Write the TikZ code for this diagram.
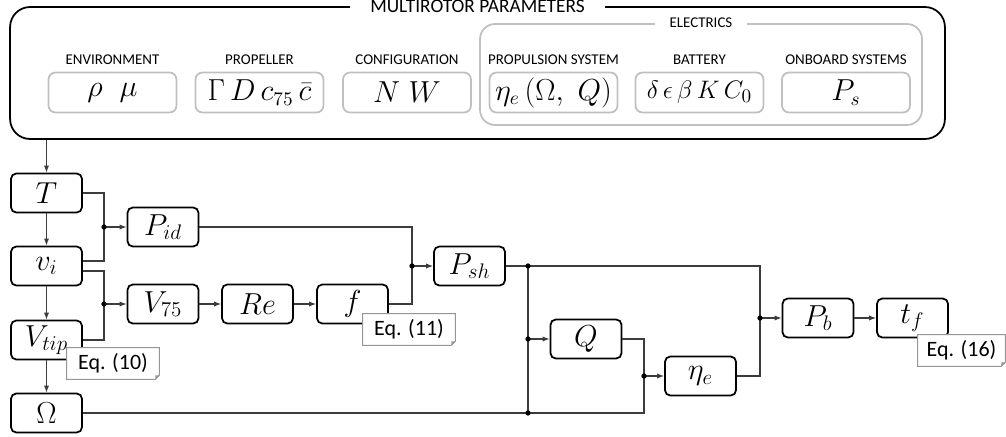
\documentclass[tikz,border=0pt]{standalone}
\usepackage{amsmath}
\usepackage{amssymb}
\usepackage{fontspec}
\usepackage{tikz}
\usetikzlibrary{calc,arrows.meta}
\newfontfamily\calib{Carlito}
\definecolor{linegray}{RGB}{60,60,60}
\definecolor{boxgray}{RGB}{192,192,192}
\definecolor{notegray}{RGB}{150,150,150}

\begin{document}
\begin{tikzpicture}[x=0.02cm, y=-0.02cm,
    blk/.style={draw, line width=1pt, rounded corners=3pt, minimum width=1.42cm,
      minimum height=0.78cm, inner sep=0pt, font=\fontsize{17}{20}\selectfont},
    parbox/.style={draw=boxgray, line width=1pt, rounded corners=4pt, minimum width=2.56cm,
      minimum height=0.8cm, inner sep=0pt, font=\fontsize{16}{19}\selectfont},
    grplbl/.style={font=\calib\fontsize{8.5}{10}\selectfont},
    conn/.style={draw=linegray, line width=0.7pt},
    arr/.style={conn, -{Latex[length=4pt,width=3pt]}},
    note/.style={fill=white, minimum width=1.84cm, minimum height=0.62cm, inner sep=0pt,
      font=\calib\fontsize{12.5}{15}\selectfont}]
  \useasboundingbox (0,0) rectangle (1006,436);

  % parameters
  \node[draw, line width=1pt, rounded corners=0.4cm, minimum width=18.7cm,
    minimum height=2.64cm] (params) at (477.5,73) {};
  \node[fill=white, inner xsep=0.4cm, font=\calib\fontsize{11}{13}\selectfont]
    (ptitle) at (params.north) {MULTIROTOR PARAMETERS};
  \node[draw=boxgray, line width=1pt, rounded corners=0.3cm, minimum width=8.84cm,
    minimum height=2.02cm] (elec) at (701,74.5) {};
  \node[grplbl, fill=white, inner xsep=0.3cm] (etitle) at (elec.north) {ELECTRICS};

  \node[parbox] (env) at (112.5,92.5) {$\rho\ \ \mu$};
  \node[parbox] (prop) at (259.5,92.5) {$\Gamma\, D\, c_{75}\, \bar{c}$};
  \node[parbox] (conf) at (407,92.5) {$N\ W$};
  \node[parbox] (psys) at (553.5,92.5) {$\eta_e\left(\Omega,\ Q\right)$};
  \node[parbox, font=\fontsize{15}{18}\selectfont] (batt) at (699.5,92.5)
    {$\delta\,\epsilon\,\beta\,K\,C_0$};
  \node[parbox] (onb) at (846,92.5) {$P_s$};
  \node[grplbl] (envl) at (112.5,60) {ENVIRONMENT};
  \node[grplbl] (propl) at (259.5,60) {PROPELLER};
  \node[grplbl] (confl) at (407,60) {CONFIGURATION};
  \node[grplbl] (psysl) at (553.5,60) {PROPULSION SYSTEM};
  \node[grplbl] (battl) at (699.5,60) {BATTERY};
  \node[grplbl] (onbl) at (846,60) {ONBOARD SYSTEMS};

  % blocks
  \node[blk] (T) at (46.5,193) {$T$};
  \node[blk] (vi) at (46.5,266) {$v_i$};
  \node[blk] (Vtip) at (46.5,340) {$V_{tip}$};
  \node[blk] (Om) at (46.5,413) {$\Omega$};
  \node[blk] (Pid) at (163,227) {$P_{id}$};
  \node[blk] (V75) at (163,304) {$V_{75}$};
  \node[blk] (Re) at (257.5,304) {$Re$};
  \node[blk] (f) at (352.5,304) {$f$};
  \node[blk] (Psh) at (469.5,266) {$P_{sh}$};
  \node[blk] (Q) at (586,339) {$Q$};
  \node[blk] (eta) at (700.5,376) {$\eta_e$};
  \node[blk] (Pb) at (818,318) {$P_b$};
  \node[blk] (tf) at (912.5,318) {$t_f$};

  \coordinate (j1) at (104,227);
  \coordinate (j2) at (104,304);
  \coordinate (j3) at (412,266);
  \coordinate (j4) at (528,266);
  \coordinate (j5) at (528,339);
  \coordinate (j6) at (528,413);
  \coordinate (j7) at (760,318);
  \coordinate (j8) at (644,376);

  % connectors
  \draw[arr] (params.south -| T.north) -- (T.north);
  \draw[arr] (T) -- (vi);
  \draw[arr] (vi) -- (Vtip);
  \draw[arr] (Vtip) -- (Om);
  \draw[conn] (T.east) -| (j1) |- ($(vi.east)+(0,-5)$);
  \draw[conn] ($(vi.east)+(0,5)$) -| (j2) |- (Vtip.east);
  \draw[arr] (j1) -- (Pid.west);
  \draw[arr] (j2) -- (V75.west);
  \draw[arr] (V75) -- (Re);
  \draw[arr] (Re) -- (f);
  \draw[conn] (f.east) -| (j3) |- (Pid.east);
  \draw[arr] (j3) -- (Psh.west);
  \draw[conn] (Psh.east) -- (j4) -| (j7);
  \draw[conn] (j4) -- (j6);
  \draw[arr] (j5) -- (Q.west);
  \draw[conn] (Om.east) -- (j6) -| (j8) |- (Q.east);
  \draw[arr] (j8) -- (eta.west);
  \draw[conn] (eta.east) -| (j7);
  \draw[arr] (j7) -- (Pb.west);
  \draw[arr] (Pb) -- (tf);
  \foreach \j in {j1,j2,j3,j4,j5,j6,j7,j8}
    \fill (\j) circle (1.5pt);

  % equation notes
  \node[note] (eq10) at (113,363.5) {Eq. (10)};
  \node[note] (eq11) at (409,329.5) {Eq. (11)};
  \node[note, minimum width=1.74cm] (eq16) at (961.5,350.5) {Eq. (16)};
  \foreach \n in {eq10,eq11,eq16} {
    \draw[notegray, line width=0.6pt] (\n.north west) -- (\n.north east)
      -- ($(\n.south east)+(0,-4)$) -- ($(\n.south east)+(-4,0)$) -- (\n.south west) -- cycle;
    \fill[notegray] ($(\n.south east)+(0,-4)$) -- ($(\n.south east)+(-4,0)$)
      -- ($(\n.south east)+(-4,-4)$) -- cycle;
  }
\end{tikzpicture}
\end{document}
